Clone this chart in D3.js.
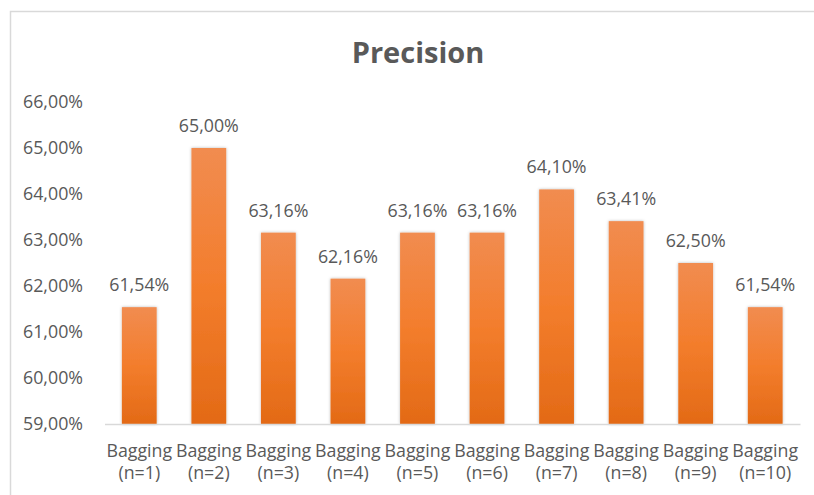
<!DOCTYPE html>
<html>
<head>
<meta charset="utf-8">
<script src="https://cdn.jsdelivr.net/npm/d3@7"></script>
<style>
  html, body { margin: 0; padding: 0; background: #ffffff; }
  svg { display: block; }
  text { font-family: "Open Sans", "Liberation Sans", sans-serif; fill: #595959; }
</style>
</head>
<body>
<svg id="chart" width="814" height="495"></svg>
<script>
const categories = ["Bagging (n=1)", "Bagging (n=2)", "Bagging (n=3)", "Bagging (n=4)", "Bagging (n=5)",
                    "Bagging (n=6)", "Bagging (n=7)", "Bagging (n=8)", "Bagging (n=9)", "Bagging (n=10)"];
const precision = [61.54, 65.00, 63.16, 62.16, 63.16, 63.16, 64.10, 63.41, 62.50, 61.54];
const yTicks = [59, 60, 61, 62, 63, 64, 65, 66];
const title = "Precision";

const fmt = v => v.toFixed(2).replace(".", ",") + "%";
const FS = "17.8px";

const svg = d3.select("#chart");

// chart border
svg.append("rect")
  .attr("x", 10.5).attr("y", 11.5)
  .attr("width", 900).attr("height", 600)
  .attr("fill", "#ffffff")
  .attr("stroke", "#d9d9d9").attr("stroke-width", 1.5);

const defs = svg.append("defs");
const grad = defs.append("linearGradient")
  .attr("id", "barGrad").attr("x1", 0).attr("y1", 0).attr("x2", 0).attr("y2", 1);
grad.append("stop").attr("offset", "0%").attr("stop-color", "#f18c50");
grad.append("stop").attr("offset", "50%").attr("stop-color", "#f37d2c");
grad.append("stop").attr("offset", "100%").attr("stop-color", "#e36a16");

const filt = defs.append("filter").attr("id", "shadow")
  .attr("x", "-30%").attr("y", "-10%").attr("width", "160%").attr("height", "120%");
filt.append("feDropShadow")
  .attr("dx", 0).attr("dy", 0).attr("stdDeviation", 1.6)
  .attr("flood-color", "#000000").attr("flood-opacity", 0.28);

const x = d3.scaleBand()
  .domain(categories)
  .range([104.5, 800])
  .paddingInner(0.5)
  .paddingOuter(0.25);

const y = d3.scaleLinear()
  .domain([59, 66])
  .range([424, 102]);

// title
svg.append("text")
  .attr("x", 418).attr("y", 63)
  .attr("text-anchor", "middle")
  .style("font-size", "29px")
  .style("font-weight", "bold")
  .text(title);

// y axis labels
const yAxis = d3.axisLeft(y).tickValues(yTicks).tickFormat(fmt).tickSize(0).tickPadding(0);
const yg = svg.append("g").attr("transform", "translate(83,0)").call(yAxis);
yg.select(".domain").remove();
yg.selectAll("text")
  .attr("fill", "#595959")
  .style("font-family", "\"Open Sans\", sans-serif")
  .style("font-size", FS);

// bars
svg.append("g").selectAll("rect")
  .data(precision)
  .join("rect")
  .attr("x", (d, i) => x(categories[i]))
  .attr("y", d => y(d))
  .attr("width", x.bandwidth())
  .attr("height", d => y(59) - y(d))
  .attr("fill", "url(#barGrad)")
  .attr("filter", "url(#shadow)");

// x axis
const xAxis = d3.axisBottom(x).tickSize(0).tickFormat("");
const xg = svg.append("g").attr("transform", `translate(0,${y(59)})`).call(xAxis);
xg.select(".domain").attr("stroke", "#d9d9d9").attr("stroke-width", 1.5);

// x labels (two lines)
const lab = svg.append("g").selectAll("text")
  .data(categories)
  .join("text")
  .attr("text-anchor", "middle")
  .style("font-size", FS);
lab.each(function(d) {
  const parts = d.split(" ");
  const cx = x(d) + x.bandwidth() / 2;
  const t = d3.select(this);
  t.append("tspan").attr("x", cx).attr("y", 457).text(parts[0]);
  t.append("tspan").attr("x", cx).attr("y", 479).text(parts[1]);
});

// data labels
svg.append("g").selectAll("text")
  .data(precision)
  .join("text")
  .attr("x", (d, i) => x(categories[i]) + x.bandwidth() / 2)
  .attr("y", d => y(d) - 16)
  .attr("text-anchor", "middle")
  .style("font-size", FS)
  .text(fmt);
</script>
</body>
</html>
